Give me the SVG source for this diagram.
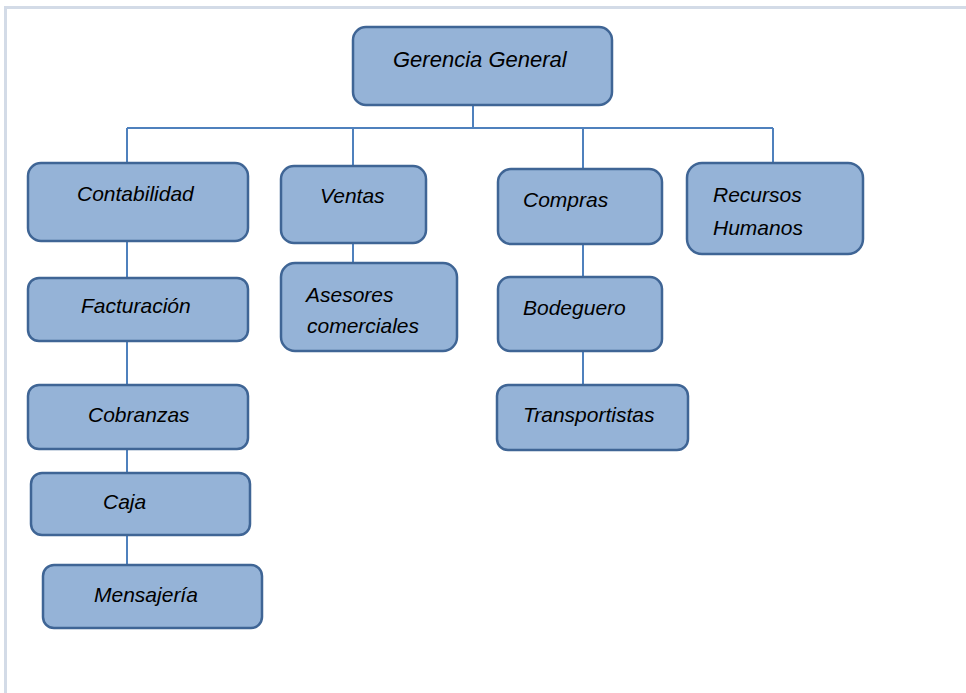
<svg xmlns="http://www.w3.org/2000/svg" width="966" height="693" viewBox="0 0 966 693">
<style>
.box{fill:#95b3d7;stroke:#3f6595;stroke-width:2.5}
.t{font-family:"Liberation Sans",Arial,sans-serif;font-style:italic;font-size:21px;fill:#000}
.c{stroke:#4f81bd;stroke-width:2;fill:none}
.frame{stroke:#d3dbe7;stroke-width:3;fill:none}
</style>
<rect width="966" height="693" fill="#fff"/>
<path class="frame" d="M5.5,693 V7.5 H966"/>
<g id="connectors">
<path class="c" d="M473,105 V128 M127,128 H773 M127,128 V163 M353,128 V166 M583,128 V169 M773,128 V163"/>
<path class="c" d="M127,241 V278 M127,341 V385 M127,449 V473 M127,535 V565"/>
<path class="c" d="M353,243 V263"/>
<path class="c" d="M583,244 V277 M583,351 V385"/>
</g>
<g id="gerencia"><rect class="box" x="353" y="27" width="259" height="78" rx="13"/><text class="t" x="393" y="67" style="font-size:22px">Gerencia General</text></g>
<g id="contabilidad"><rect class="box" x="28" y="163" width="220" height="78" rx="13"/><text class="t" x="77" y="201">Contabilidad</text></g>
<g id="ventas"><rect class="box" x="281" y="166" width="145" height="77" rx="13"/><text class="t" x="320" y="203">Ventas</text></g>
<g id="compras"><rect class="box" x="498" y="169" width="164" height="75" rx="13"/><text class="t" x="523" y="207">Compras</text></g>
<g id="rrhh"><rect class="box" x="687" y="163" width="176" height="91" rx="15"/><text class="t" x="713" y="202">Recursos</text><text class="t" x="713" y="235">Humanos</text></g>
<g id="facturacion"><rect class="box" x="28" y="278" width="220" height="63" rx="11"/><text class="t" x="81" y="313">Facturación</text></g>
<g id="asesores"><rect class="box" x="281" y="263" width="176" height="88" rx="14"/><text class="t" x="306" y="302">Asesores</text><text class="t" x="307" y="333">comerciales</text></g>
<g id="bodeguero"><rect class="box" x="498" y="277" width="164" height="74" rx="12"/><text class="t" x="523" y="315">Bodeguero</text></g>
<g id="transportistas"><rect class="box" x="497" y="385" width="191" height="65" rx="11"/><text class="t" x="523" y="422">Transportistas</text></g>
<g id="cobranzas"><rect class="box" x="28" y="385" width="220" height="64" rx="11"/><text class="t" x="88" y="422">Cobranzas</text></g>
<g id="caja"><rect class="box" x="31" y="473" width="219" height="62" rx="11"/><text class="t" x="103" y="509">Caja</text></g>
<g id="mensajeria"><rect class="box" x="43" y="565" width="219" height="63" rx="11"/><text class="t" x="94" y="602">Mensajería</text></g>
</svg>
